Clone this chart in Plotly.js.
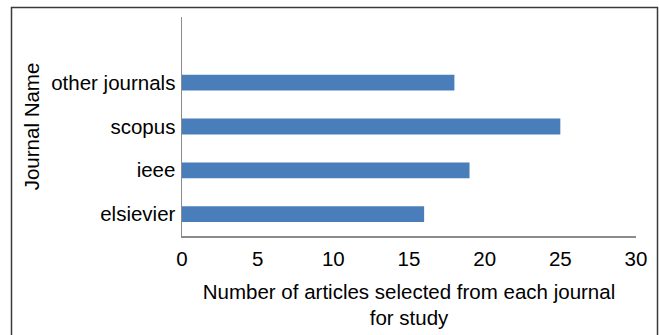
<!DOCTYPE html>
<html>
<head>
<meta charset="utf-8">
<script src="https://cdn.plot.ly/plotly-3.0.1.min.js"></script>
<style>
html, body { margin: 0; padding: 0; background: #fff; }
#chart { width: 659px; height: 335px; }
</style>
</head>
<body>
<div id="chart"></div>
<script>
var journals = ["elsievier", "ieee", "scopus", "other journals"];
var articleCounts = [16, 19, 25, 18];
var xTickValues = [0, 5, 10, 15, 20, 25, 30];

var FONT = "Liberation Sans, Arial, sans-serif";
var FS = 20.5;

var trace = {
  type: "bar",
  orientation: "h",
  y: journals,
  x: articleCounts,
  width: 0.36,
  marker: { color: "#4a7ebb", line: { width: 0 } },
  hoverinfo: "x+y"
};

var layout = {
  width: 659,
  height: 335,
  margin: { l: 182, r: 23, t: 17, b: 99, pad: 0 },
  paper_bgcolor: "#ffffff",
  plot_bgcolor: "#ffffff",
  showlegend: false,
  font: { family: FONT, size: FS, color: "#000000" },
  xaxis: {
    range: [0, 30],
    tickvals: xTickValues,
    ticktext: xTickValues.map(String),
    showgrid: false,
    zeroline: false,
    showline: true,
    linecolor: "#8c8c8c",
    linewidth: 1.5,
    ticks: "",
    ticklabelstandoff: 4,
    tickfont: { family: FONT, size: FS, color: "#000" },
    title: {
      text: "Number of articles selected from each journal<br>for study",
      font: { family: FONT, size: FS, color: "#000" },
      standoff: 15
    },
    fixedrange: true
  },
  yaxis: {
    type: "category",
    categoryorder: "array",
    categoryarray: journals,
    range: [-0.5, 4.5],
    showgrid: false,
    zeroline: false,
    showline: true,
    linecolor: "#8c8c8c",
    linewidth: 1.5,
    ticks: "",
    ticklabelstandoff: 1,
    tickfont: { family: FONT, size: FS, color: "#000" },
    title: {
      text: "Journal Name",
      font: { family: FONT, size: FS, color: "#000" },
      standoff: 6
    },
    fixedrange: true
  },
  shapes: [{
    type: "rect",
    xref: "paper", yref: "paper",
    x0: (11.5 - 182) / 454, x1: (657.5 - 182) / 454,
    y0: (236 - 340) / 219, y1: (236 - 7.5) / 219,
    line: { color: "#3a3a3a", width: 1.5 },
    fillcolor: "rgba(0,0,0,0)",
    layer: "below"
  }]
};

Plotly.newPlot("chart", [trace], layout, { staticPlot: true, displayModeBar: false });
</script>
</body>
</html>
